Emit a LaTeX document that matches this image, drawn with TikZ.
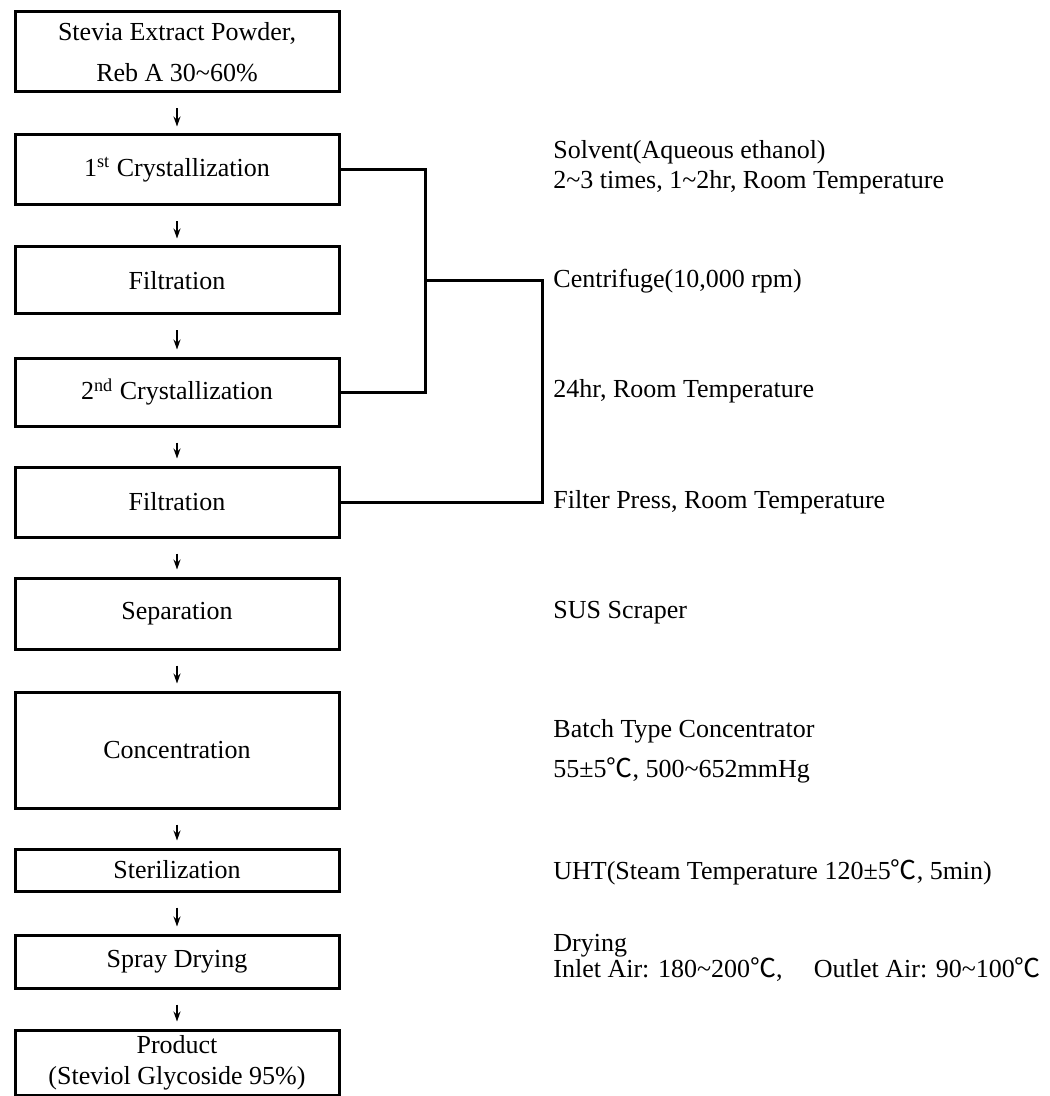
\documentclass[tikz,border=0pt]{standalone}
\usepackage{fontspec}
\setmainfont{Liberation Serif}
\newfontfamily\cjk{Noto Sans CJK KR}
\newcommand\degC{{\cjk ℃}}
\newcommand\tld{\textasciitilde}
\newcommand\tightlines{\fontsize{13}{13}\selectfont\lineskiplimit=-30pt\relax\lineskip=0pt\relax}
\usetikzlibrary{arrows.meta}
\begin{document}
\begin{tikzpicture}[x=0.5pt,y=-0.5pt,
  box/.style={draw, line width=1.5pt, minimum width=162pt, inner sep=0pt, align=center, font=\fontsize{13}{16}\selectfont},
  note/.style={anchor=west, inner sep=0pt, align=left, font=\fontsize{13}{15}\selectfont},
  flow/.style={line width=0.8pt, -{Stealth[length=5pt,width=3.5pt]}, shorten <=7.5pt, shorten >=3.5pt},
  link/.style={line width=1.5pt}]
\useasboundingbox (0,0) rectangle (1049,1096);

\node[box, minimum height=40pt] (b1) at (177,52) {Stevia Extract Powder,\\[4.5pt]Reb A 30\tld60\%};
\node[box, minimum height=35pt] (b2) at (177,170) {1\textsuperscript{st} Crystallization};
\node[box, minimum height=33.5pt] (b3) at (177,280.5) {Filtration};
\node[box, minimum height=34pt] (b4) at (177,392) {2\textsuperscript{nd} Crystallization};
\node[box, minimum height=35pt] (b5) at (177,502) {Filtration};
\node[box, minimum height=35.5pt] (b6) at (177,613.5) {Separation};
\node[box, minimum height=58pt] (b7) at (177,750) {Concentration};
\node[box, minimum height=21pt] (b8) at (177,870) {Sterilization};
\node[box, minimum height=26.5pt] (b9) at (177,961.5) {Spray Drying};
\node[box, minimum height=32.5pt, font=\fontsize{13}{15.5}\selectfont] (b10) at (177,1062.5) {Product\\(Steviol Glycoside 95\%)};

\draw[flow] (b1) -- (b2);
\draw[flow] (b2) -- (b3);
\draw[flow] (b3) -- (b4);
\draw[flow] (b4) -- (b5);
\draw[flow] (b5) -- (b6);
\draw[flow] (b6) -- (b7);
\draw[flow] (b7) -- (b8);
\draw[flow] (b8) -- (b9);
\draw[flow] (b9) -- (b10);

\coordinate (j) at (425,281);
\coordinate (k) at (542,281);
\draw[link] (b2.east) -| (j) |- (b4.east);
\draw[link] (j) -- (k) |- (b5.east);

\node[note] (n1) at (553,167) {Solvent(Aqueous ethanol)\\2\tld3 times, 1\tld2hr, Room Temperature};
\node[note] (n2) at (553,281) {Centrifuge(10,000 rpm)};
\node[note] (n3) at (553,391) {24hr, Room Temperature};
\node[note] (n4) at (553,502) {Filter Press, Room Temperature};
\node[note] (n5) at (553,613) {SUS Scraper};
\node[note] (n6) at (553,751) {Batch Type Concentrator\\[5pt]55±5\degC, 500\tld652mmHg};
\node[note] (n7) at (553,872) {UHT(Steam Temperature 120±5\degC, 5min)};
\node[note, font=\tightlines] (n8) at (553,958) {Drying\\Inlet Air: 180\tld200\degC,\hspace{1.2em}Outlet Air: 90\tld100\degC};
\end{tikzpicture}
\end{document}
